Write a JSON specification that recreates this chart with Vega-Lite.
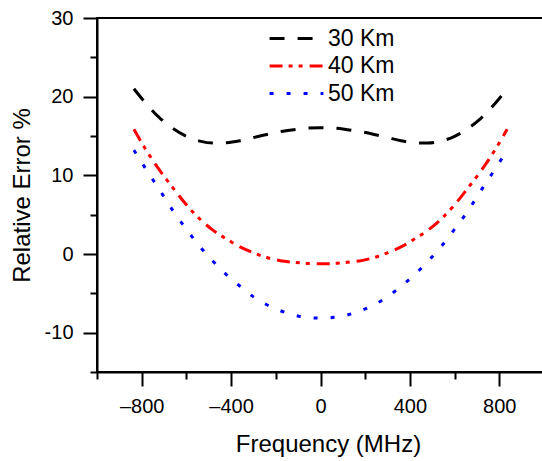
{
  "$schema": "https://vega.github.io/schema/vega-lite/v6.json",
  "width": 447,
  "height": 354,
  "autosize": {"type": "none"},
  "padding": {"left": 97, "top": 18, "right": 0, "bottom": 89},
  "background": "white",
  "config": {
    "view": {"stroke": "black", "strokeWidth": 2},
    "font": "Liberation Sans",
    "axis": {
      "domainColor": "black", "domainWidth": 2, "tickColor": "black", "tickWidth": 2,
      "labelColor": "black", "titleColor": "black", "grid": false,
      "labelFont": "Liberation Sans", "titleFont": "Liberation Sans",
      "labelFontSize": 20, "titleFontSize": 24, "titleFontWeight": "normal"
    }
  },
  "data": {
    "values": [
      {"f": -835, "s": "30 Km", "v": 21.0}, {"f": -780, "s": "30 Km", "v": 19.1}, {"f": -720, "s": "30 Km", "v": 17.3}, {"f": -660, "s": "30 Km", "v": 15.95}, {"f": -600, "s": "30 Km", "v": 14.95}, {"f": -540, "s": "30 Km", "v": 14.35}, {"f": -480, "s": "30 Km", "v": 14.1}, {"f": -420, "s": "30 Km", "v": 14.15}, {"f": -360, "s": "30 Km", "v": 14.4}, {"f": -300, "s": "30 Km", "v": 14.8}, {"f": -240, "s": "30 Km", "v": 15.2}, {"f": -180, "s": "30 Km", "v": 15.55}, {"f": -120, "s": "30 Km", "v": 15.8}, {"f": -60, "s": "30 Km", "v": 16.0}, {"f": 0, "s": "30 Km", "v": 16.05},
      {"f": 60, "s": "30 Km", "v": 16.0}, {"f": 120, "s": "30 Km", "v": 15.8}, {"f": 180, "s": "30 Km", "v": 15.55}, {"f": 240, "s": "30 Km", "v": 15.2}, {"f": 300, "s": "30 Km", "v": 14.8}, {"f": 360, "s": "30 Km", "v": 14.4}, {"f": 420, "s": "30 Km", "v": 14.15}, {"f": 480, "s": "30 Km", "v": 14.1}, {"f": 540, "s": "30 Km", "v": 14.35}, {"f": 600, "s": "30 Km", "v": 14.95}, {"f": 660, "s": "30 Km", "v": 15.95}, {"f": 720, "s": "30 Km", "v": 17.3}, {"f": 780, "s": "30 Km", "v": 19.1}, {"f": 835, "s": "30 Km", "v": 21.0},
      {"f": -835, "s": "40 Km", "v": 15.85}, {"f": -780, "s": "40 Km", "v": 13.2}, {"f": -720, "s": "40 Km", "v": 10.65}, {"f": -660, "s": "40 Km", "v": 8.4}, {"f": -600, "s": "40 Km", "v": 6.25}, {"f": -540, "s": "40 Km", "v": 4.45}, {"f": -480, "s": "40 Km", "v": 3.0}, {"f": -420, "s": "40 Km", "v": 1.9}, {"f": -360, "s": "40 Km", "v": 0.9}, {"f": -300, "s": "40 Km", "v": 0.15}, {"f": -240, "s": "40 Km", "v": -0.45}, {"f": -180, "s": "40 Km", "v": -0.85}, {"f": -120, "s": "40 Km", "v": -1.05}, {"f": -60, "s": "40 Km", "v": -1.2}, {"f": 0, "s": "40 Km", "v": -1.25},
      {"f": 60, "s": "40 Km", "v": -1.2}, {"f": 120, "s": "40 Km", "v": -1.05}, {"f": 180, "s": "40 Km", "v": -0.85}, {"f": 240, "s": "40 Km", "v": -0.45}, {"f": 300, "s": "40 Km", "v": 0.15}, {"f": 360, "s": "40 Km", "v": 0.9}, {"f": 420, "s": "40 Km", "v": 1.9}, {"f": 480, "s": "40 Km", "v": 3.0}, {"f": 540, "s": "40 Km", "v": 4.45}, {"f": 600, "s": "40 Km", "v": 6.25}, {"f": 660, "s": "40 Km", "v": 8.4}, {"f": 720, "s": "40 Km", "v": 10.65}, {"f": 780, "s": "40 Km", "v": 13.2}, {"f": 835, "s": "40 Km", "v": 15.85},
      {"f": -835, "s": "50 Km", "v": 13.2}, {"f": -780, "s": "50 Km", "v": 10.75}, {"f": -720, "s": "50 Km", "v": 8.15}, {"f": -660, "s": "50 Km", "v": 5.5}, {"f": -600, "s": "50 Km", "v": 3.15}, {"f": -540, "s": "50 Km", "v": 0.95}, {"f": -480, "s": "50 Km", "v": -0.95}, {"f": -420, "s": "50 Km", "v": -2.65}, {"f": -360, "s": "50 Km", "v": -4.1}, {"f": -300, "s": "50 Km", "v": -5.45}, {"f": -240, "s": "50 Km", "v": -6.45}, {"f": -180, "s": "50 Km", "v": -7.2}, {"f": -120, "s": "50 Km", "v": -7.75}, {"f": -60, "s": "50 Km", "v": -8.05}, {"f": 0, "s": "50 Km", "v": -8.15},
      {"f": 60, "s": "50 Km", "v": -8.05}, {"f": 120, "s": "50 Km", "v": -7.75}, {"f": 180, "s": "50 Km", "v": -7.2}, {"f": 240, "s": "50 Km", "v": -6.45}, {"f": 300, "s": "50 Km", "v": -5.45}, {"f": 360, "s": "50 Km", "v": -4.1}, {"f": 420, "s": "50 Km", "v": -2.65}, {"f": 480, "s": "50 Km", "v": -0.95}, {"f": 540, "s": "50 Km", "v": 0.95}, {"f": 600, "s": "50 Km", "v": 3.15}, {"f": 660, "s": "50 Km", "v": 5.5}, {"f": 720, "s": "50 Km", "v": 8.15}, {"f": 780, "s": "50 Km", "v": 10.75}, {"f": 835, "s": "50 Km", "v": 13.2}
    ]
  },
  "layer": [
    {
      "mark": {"type": "line", "strokeWidth": 3, "interpolate": "monotone"},
      "encoding": {
        "x": {
          "field": "f", "type": "quantitative",
          "scale": {"domain": [-1000, 1000], "nice": false, "zero": false},
          "axis": {
            "orient": "bottom", "values": [-800, -400, 0, 400, 800], "tickSize": 14,
            "labelPadding": 10, "title": "Frequency (MHz)", "titlePadding": 16,
            "titleX": 231, "titleAlign": "center",
            "labelExpr": "replace(replace(format(datum.value, 'd'), '−', '–'), '-', '–')"
          }
        },
        "y": {
          "field": "v", "type": "quantitative",
          "scale": {"domain": [-15, 30], "nice": false, "zero": false},
          "axis": {
            "orient": "left", "values": [-10, 0, 10, 20, 30], "tickSize": 14,
            "labelPadding": 10, "title": "Relative Error %", "titlePadding": 10,
            "labelExpr": "replace(format(datum.value, 'd'), '−', '-')"
          }
        },
        "color": {
          "field": "s", "type": "nominal",
          "scale": {"domain": ["30 Km", "40 Km", "50 Km"], "range": ["#000000", "#ff0000", "#0000ff"]},
          "legend": {
            "orient": "none", "legendX": 171, "legendY": 7, "title": null,
            "symbolType": "stroke", "symbolStrokeWidth": 3, "symbolSize": 2900,
            "clipHeight": 27,
            "labelFontSize": 23, "labelFont": "Liberation Sans", "labelColor": "black",
            "labelOffset": 3, "rowPadding": 0.5
          }
        },
        "strokeDash": {
          "field": "s", "type": "nominal",
          "scale": {"domain": ["30 Km", "40 Km", "50 Km"], "range": [[15, 13], [13, 6, 4, 6, 4, 7], [4, 13]]},
          "legend": {
            "orient": "none", "legendX": 171, "legendY": 7, "title": null,
            "symbolType": "stroke", "symbolStrokeWidth": 3, "symbolSize": 2900,
            "clipHeight": 27,
            "labelFontSize": 23, "labelFont": "Liberation Sans", "labelColor": "black",
            "labelOffset": 3, "rowPadding": 0.5
          }
        }
      }
    },
    {
      "mark": {"type": "line", "opacity": 0},
      "encoding": {
        "x": {
          "field": "f", "type": "quantitative",
          "scale": {"domain": [-1000, 1000], "nice": false, "zero": false},
          "axis": {"orient": "bottom", "values": [-1000, -600, -200, 200, 600, 1000], "tickSize": 7, "labels": false, "title": null, "domain": false}
        },
        "y": {
          "field": "v", "type": "quantitative",
          "scale": {"domain": [-15, 30], "nice": false, "zero": false},
          "axis": {"orient": "left", "values": [-15, -5, 5, 15, 25], "tickSize": 7, "labels": false, "title": null, "domain": false}
        },
        "detail": {"field": "s"}
      }
    }
  ],
  "resolve": {"axis": {"x": "independent", "y": "independent"}}
}
